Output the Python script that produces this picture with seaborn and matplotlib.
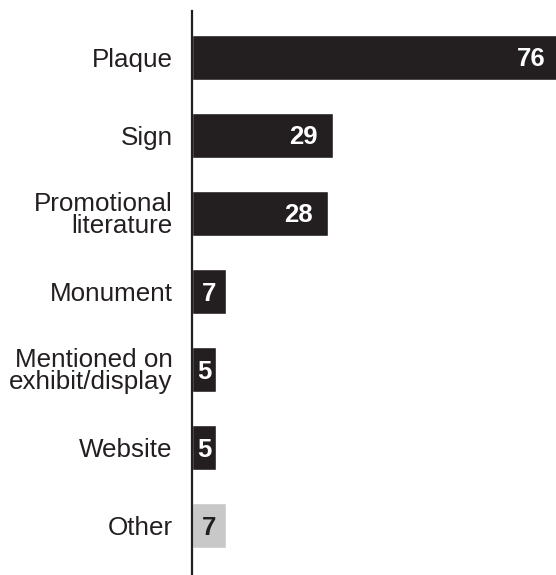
import matplotlib
matplotlib.use("Agg")
import matplotlib.pyplot as plt
import seaborn as sns
import pandas as pd

categories = ["Plaque", "Sign", "Promotional\nliterature", "Monument",
              "Mentioned on\nexhibit/display", "Website", "Other"]
counts = [76, 29, 28, 7, 5, 5, 7]
bar_colors = ["#231f20", "#231f20", "#231f20", "#231f20", "#231f20", "#231f20", "#c8c8c8"]
label_colors = ["white", "white", "white", "white", "white", "white", "#231f20"]

sns.set_theme(style="white")
plt.rcParams["font.family"] = ["Liberation Sans", "DejaVu Sans"]

df = pd.DataFrame({"category": categories, "count": counts})

fig = plt.figure(figsize=(5.56, 5.75), dpi=100)
ax = fig.add_axes([192 / 556, 0.0, 1 - 192 / 556, 564 / 575])

sns.barplot(data=df, x="count", y="category", hue="category",
            palette=dict(zip(categories, bar_colors)), legend=False,
            orient="h", width=0.58, saturation=1, ax=ax)

ax.set_xlim(0, 75.05)
ax.set_ylim(6.635, -0.596)

for i, (v, c) in enumerate(zip(counts, label_colors)):
    if v > 10:
        ax.text(v - 3.2, i + 0.02, str(v), ha="right", va="center",
                color=c, fontsize=18.5, fontweight="bold")
    else:
        ax.text(v / 2, i + 0.03, str(v), ha="center", va="center",
                color=c, fontsize=18.5, fontweight="bold")

ax.set_xlabel("")
ax.set_ylabel("")
ax.set_xticks([])
ax.tick_params(axis="y", length=0, pad=14, labelsize=18.7, colors="#231f20")
for lbl in ax.get_yticklabels():
    lbl.set_horizontalalignment("right")
    lbl.set_multialignment("right")
    lbl.set_linespacing(0.9)

for side in ["top", "right", "bottom"]:
    ax.spines[side].set_visible(False)
ax.spines["left"].set_color("#231f20")
ax.spines["left"].set_linewidth(1.6)

fig.savefig("out.png", dpi=100)
